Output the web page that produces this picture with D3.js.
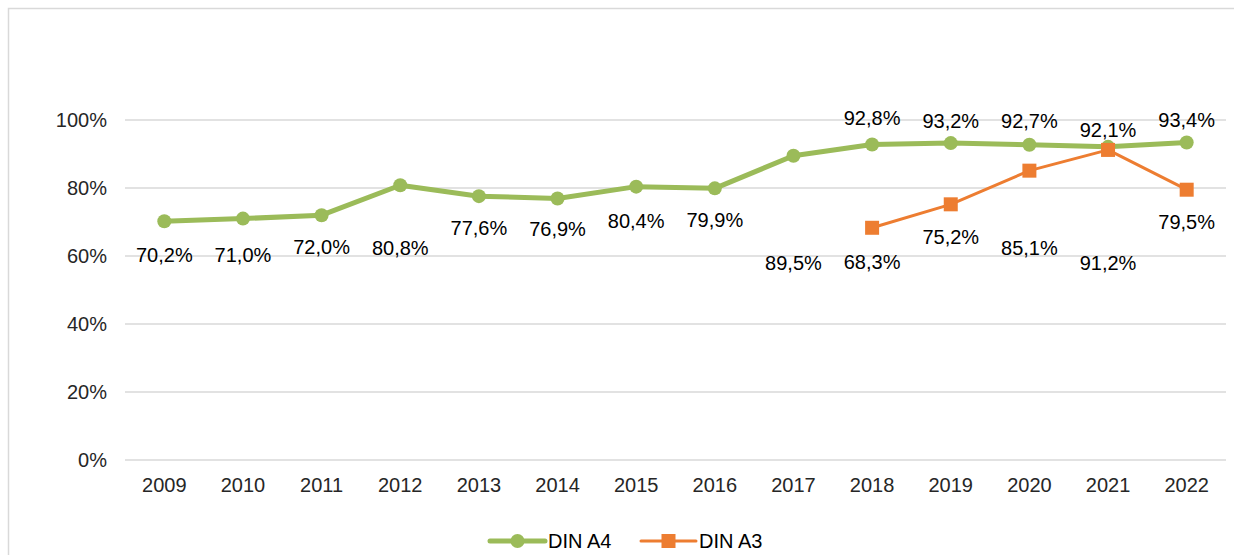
<!DOCTYPE html>
<html>
<head>
<meta charset="utf-8">
<script src="https://cdn.jsdelivr.net/npm/d3@7"></script>
<style>
  body { margin: 0; background: #fff; }
  svg { display: block; font-family: "Liberation Sans", Arial, sans-serif; }
</style>
</head>
<body>
<svg id="chart" width="1234" height="555"></svg>
<script>
// Data
var years = ["2009","2010","2011","2012","2013","2014","2015","2016","2017","2018","2019","2020","2021","2022"];
var dinA4 = [70.2, 71.0, 72.0, 80.8, 77.6, 76.9, 80.4, 79.9, 89.5, 92.8, 93.2, 92.7, 92.1, 93.4];
var dinA3 = [null, null, null, null, null, null, null, null, null, 68.3, 75.2, 85.1, 91.2, 79.5];
var yTicks = [0, 20, 40, 60, 80, 100];

// label placement (px from point, + is down)
var a4LabelDy = [34, 36, 32, 63, 32, 30, 34, 32, 107, -26, -22, -24, -17, -22];
var a3LabelDy = [0, 0, 0, 0, 0, 0, 0, 0, 0, 34, 33, 77, 113, 32];

var green = "#9bbb59", orange = "#ed7d31";

var svg = d3.select("#chart");

// outer frame
svg.append("rect")
  .attr("x", 8.5).attr("y", 8.5)
  .attr("width", 1300).attr("height", 600)
  .attr("fill", "none").attr("stroke", "#d9d9d9").attr("stroke-width", 1.5);

var x = d3.scaleBand().domain(years).range([125, 1226]);
var y = d3.scaleLinear().domain([0, 100]).range([460, 120]);
var cx = function(i) { return x(years[i]) + x.bandwidth()/2; };

// gridlines
svg.selectAll("line.grid")
  .data(yTicks)
  .enter().append("line")
  .attr("class", "grid")
  .attr("x1", 125).attr("x2", 1226)
  .attr("y1", function(d) { return y(d); })
  .attr("y2", function(d) { return y(d); })
  .attr("stroke", "#d9d9d9").attr("stroke-width", 1.5);

// y axis labels
var yAxis = d3.axisLeft(y).tickValues(yTicks).tickSize(0).tickPadding(0)
  .tickFormat(function(d) { return d + "%"; });
var ya = svg.append("g").attr("transform", "translate(107,0)").call(yAxis);
ya.select(".domain").remove();
ya.selectAll("text").attr("font-size", 20).attr("fill", "#262626")
  .attr("font-family", "Liberation Sans, Arial, sans-serif");

// x axis labels
var xAxis = d3.axisBottom(x).tickSize(0).tickPadding(0);
var xa = svg.append("g").attr("transform", "translate(0,478)").call(xAxis);
xa.select(".domain").remove();
xa.selectAll("text").attr("font-size", 20).attr("fill", "#262626")
  .attr("font-family", "Liberation Sans, Arial, sans-serif");

var fmt = function(v) { return v.toFixed(1).replace(".", ",") + "%"; };

// points with their index, gaps dropped
var toPoints = function(arr, dys) {
  return arr.map(function(v, i) { return { v: v, i: i, dy: dys[i] }; })
            .filter(function(p) { return p.v != null; });
};
var a4Pts = toPoints(dinA4, a4LabelDy);
var a3Pts = toPoints(dinA3, a3LabelDy);

var line = d3.line()
  .x(function(p) { return cx(p.i); })
  .y(function(p) { return y(p.v); });

// DIN A4
svg.append("path").datum(a4Pts)
  .attr("d", line).attr("fill", "none")
  .attr("stroke", green).attr("stroke-width", 5).attr("stroke-linejoin", "round");
svg.selectAll("circle.a4").data(a4Pts).enter().append("circle")
  .attr("class", "a4")
  .attr("cx", function(p) { return cx(p.i); })
  .attr("cy", function(p) { return y(p.v); })
  .attr("r", 7).attr("fill", green);

// DIN A3
svg.append("path").datum(a3Pts)
  .attr("d", line).attr("fill", "none")
  .attr("stroke", orange).attr("stroke-width", 3).attr("stroke-linejoin", "round");
svg.selectAll("rect.a3").data(a3Pts).enter().append("rect")
  .attr("class", "a3")
  .attr("x", function(p) { return cx(p.i) - 7; })
  .attr("y", function(p) { return y(p.v) - 7; })
  .attr("width", 14).attr("height", 14).attr("fill", orange);

// data labels
[a4Pts, a3Pts].forEach(function(pts, k) {
  svg.selectAll("text.lbl" + k).data(pts).enter().append("text")
    .attr("class", "lbl" + k)
    .attr("x", function(p) { return cx(p.i); })
    .attr("y", function(p) { return y(p.v) + p.dy; })
    .attr("dy", "0.35em")
    .attr("text-anchor", "middle").attr("font-size", 20).attr("fill", "#000")
    .text(function(p) { return fmt(p.v); });
});

// legend
var legend = [
  { name: "DIN A4", color: green, x: 490, marker: "circle", w: 5 },
  { name: "DIN A3", color: orange, x: 641, marker: "square", w: 3 }
];
var lg = svg.selectAll("g.legend").data(legend).enter().append("g")
  .attr("transform", function(d) { return "translate(" + d.x + ",541)"; });
lg.append("line").attr("x1", 0).attr("x2", 55)
  .attr("stroke", function(d) { return d.color; })
  .attr("stroke-width", function(d) { return d.w; })
  .attr("stroke-linecap", "round");
lg.filter(function(d) { return d.marker == "circle"; }).append("circle")
  .attr("cx", 27.5).attr("r", 7).attr("fill", function(d) { return d.color; });
lg.filter(function(d) { return d.marker == "square"; }).append("rect")
  .attr("x", 20.5).attr("y", -7).attr("width", 14).attr("height", 14)
  .attr("fill", function(d) { return d.color; });
lg.append("text").attr("x", 58).attr("dy", "0.35em")
  .attr("font-size", 20).attr("fill", "#000")
  .text(function(d) { return d.name; });
</script>
</body>
</html>
